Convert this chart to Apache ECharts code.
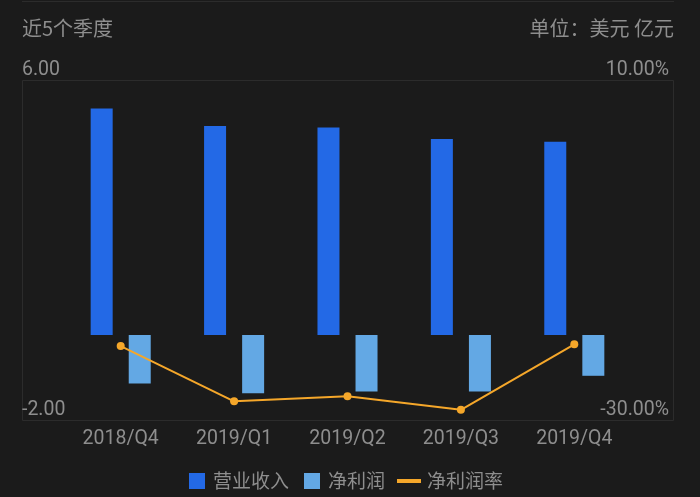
<!DOCTYPE html>
<html><head><meta charset="utf-8">
<script src="https://cdn.jsdelivr.net/npm/echarts@6/dist/echarts.min.js"></script>
<style>html,body{margin:0;padding:0;background:#1b1b1b;}#c{width:700px;height:497px;}</style>
</head><body><div id="c"></div>
<script>
const categories = ['2018/Q4','2019/Q1','2019/Q2','2019/Q3','2019/Q4'];
const revenue = [5.33, 4.92, 4.88, 4.61, 4.55];
const netProfit = [-1.14, -1.37, -1.33, -1.33, -0.96];
const netMargin = [-21.3, -27.8, -27.2, -28.8, -21.1];
const leftTicks = [-2, 6];
const rightTicks = [-30, 10];

const txt = '#8e8e8e';
const fontCJK = '"Noto Sans CJK SC", Roboto, sans-serif';
const fontNum = 'Roboto, "Noto Sans", sans-serif';
const chart = echarts.init(document.getElementById('c'));
chart.setOption({
  backgroundColor: '#1b1b1b',
  animation: false,
  title: [
    {text: '近5个季度', left: 22, top: 18, padding: 0, textStyle: {color: txt, fontSize: 20, lineHeight: 20, fontWeight: 'normal', fontFamily: fontCJK}},
    {text: '单位：美元 亿元', right: 26, top: 18, padding: 0, textStyle: {color: txt, fontSize: 20, lineHeight: 20, fontWeight: 'normal', fontFamily: fontCJK}}
  ],
  graphic: [
    {type: 'line', shape: {x1: 22, y1: 1.5, x2: 674, y2: 1.5}, style: {stroke: '#2c2c2c', lineWidth: 1}, silent: true},
    {type: 'rect', shape: {x: 22.5, y: 80.5, width: 651, height: 340}, style: {fill: 'none', stroke: '#2c2c2c', lineWidth: 1}, silent: true, z: -1}
  ],
  legend: [
    {data: [{name: '营业收入', icon: 'rect'}, {name: '净利润', icon: 'rect'}], left: 189, top: 471, padding: 0, itemWidth: 16, itemHeight: 16, itemGap: 15,
     textStyle: {color: txt, fontSize: 19, lineHeight: 20, fontFamily: fontCJK, padding: [0, 0, 0, 3]}},
    {data: [{name: '净利润率', icon: 'rect'}], left: 397, top: 471, padding: 0, itemWidth: 24, itemHeight: 4, itemGap: 10,
     textStyle: {color: txt, fontSize: 19, lineHeight: 20, fontFamily: fontCJK, padding: [0, 0, 0, 1]}}
  ],
  grid: {left: 64, right: 69, top: 80, height: 340},
  xAxis: {
    type: 'category', data: categories,
    axisLine: {show: false}, axisTick: {show: false},
    axisLabel: {color: txt, fontSize: 19.5, fontFamily: fontNum, margin: 9}
  },
  yAxis: [
    {type: 'value', min: -2, max: 6, interval: 2, splitLine: {show: false}, axisLine: {show: false}, axisTick: {show: false},
     axisLabel: {color: txt, fontSize: 19.5, fontFamily: fontNum, align: 'left', verticalAlign: 'bottom', margin: 42,
       formatter: v => leftTicks.includes(v) ? v.toFixed(2) : ''}},
    {type: 'value', min: -30, max: 10, interval: 10, splitLine: {show: false}, axisLine: {show: false}, axisTick: {show: false},
     axisLabel: {color: txt, fontSize: 19.5, fontFamily: fontNum, align: 'right', verticalAlign: 'bottom', margin: 38,
       formatter: v => rightTicks.includes(v) ? v.toFixed(2) + '%' : ''}}
  ],
  series: [
    {name: '营业收入', type: 'bar', data: revenue, barWidth: 22, barGap: '73%', itemStyle: {color: '#2369e6'}},
    {name: '净利润', type: 'bar', data: netProfit, barWidth: 22, itemStyle: {color: '#63a8e4'}},
    {name: '净利润率', type: 'line', yAxisIndex: 1, data: netMargin, symbol: 'circle', symbolSize: 8,
     lineStyle: {color: '#f5a72a', width: 2}, itemStyle: {color: '#f5a72a'}, z: 5}
  ]
});
</script></body></html>
